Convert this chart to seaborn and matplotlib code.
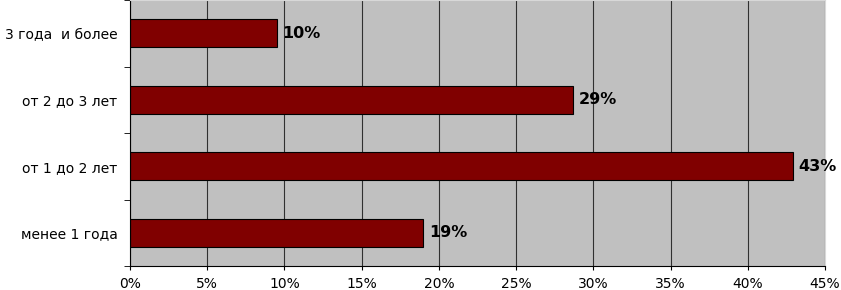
import matplotlib
matplotlib.use("Agg")
import matplotlib.pyplot as plt
import numpy as np
import pandas as pd
import seaborn as sns
from matplotlib.ticker import MultipleLocator, FuncFormatter

categories = ["3 года  и более", "от 2 до 3 лет", "от 1 до 2 лет", "менее 1 года"]
values = [9.5, 28.7, 42.9, 19.0]
value_labels = ["10%", "29%", "43%", "19%"]

sns.set_style("white")
plt.rcParams["font.family"] = ["DejaVu Sans"]

df = pd.DataFrame({"cat": categories, "val": values})

fig = plt.figure(figsize=(8.41, 2.9), dpi=100)
ax = fig.add_axes([130 / 841, 24 / 290, 695 / 841, 266 / 290])
ax.set_facecolor("#C0C0C0")

sns.barplot(data=df, x="val", y="cat", orient="h", color="#800000",
            edgecolor="black", linewidth=0.8, width=0.42, saturation=1, ax=ax)

ax.set_xlim(0, 45)
ax.set_ylim(3.5, -0.5)
ax.xaxis.set_major_locator(MultipleLocator(5))
ax.xaxis.set_major_formatter(FuncFormatter(lambda v, p: f"{v:.0f}%"))
ax.grid(axis="x", color="#303030", linewidth=0.8)
ax.set_axisbelow(True)
ax.set_xlabel("")
ax.set_ylabel("")

ax.set_yticks(np.arange(len(categories)))
ax.set_yticks(np.arange(len(categories) + 1) - 0.5, minor=True)
ax.tick_params(axis="y", which="major", length=0, pad=9, labelsize=10,
               labelcolor="black")
ax.tick_params(axis="y", which="minor", length=4, color="black", left=True)
ax.tick_params(axis="x", length=3, color="black", bottom=True, labelsize=10,
               pad=5, labelcolor="black")

for s in ["left", "bottom"]:
    ax.spines[s].set_color("black")
    ax.spines[s].set_linewidth(0.8)
for s in ["top", "right"]:
    ax.spines[s].set_color("#d8d8d8")
    ax.spines[s].set_linewidth(0.8)

for i, (v, lab) in enumerate(zip(values, value_labels)):
    ax.text(v + 0.35, i, lab, va="center", ha="left", fontsize=11.5,
            fontweight="bold", color="black")

fig.savefig("out.png", dpi=100)
